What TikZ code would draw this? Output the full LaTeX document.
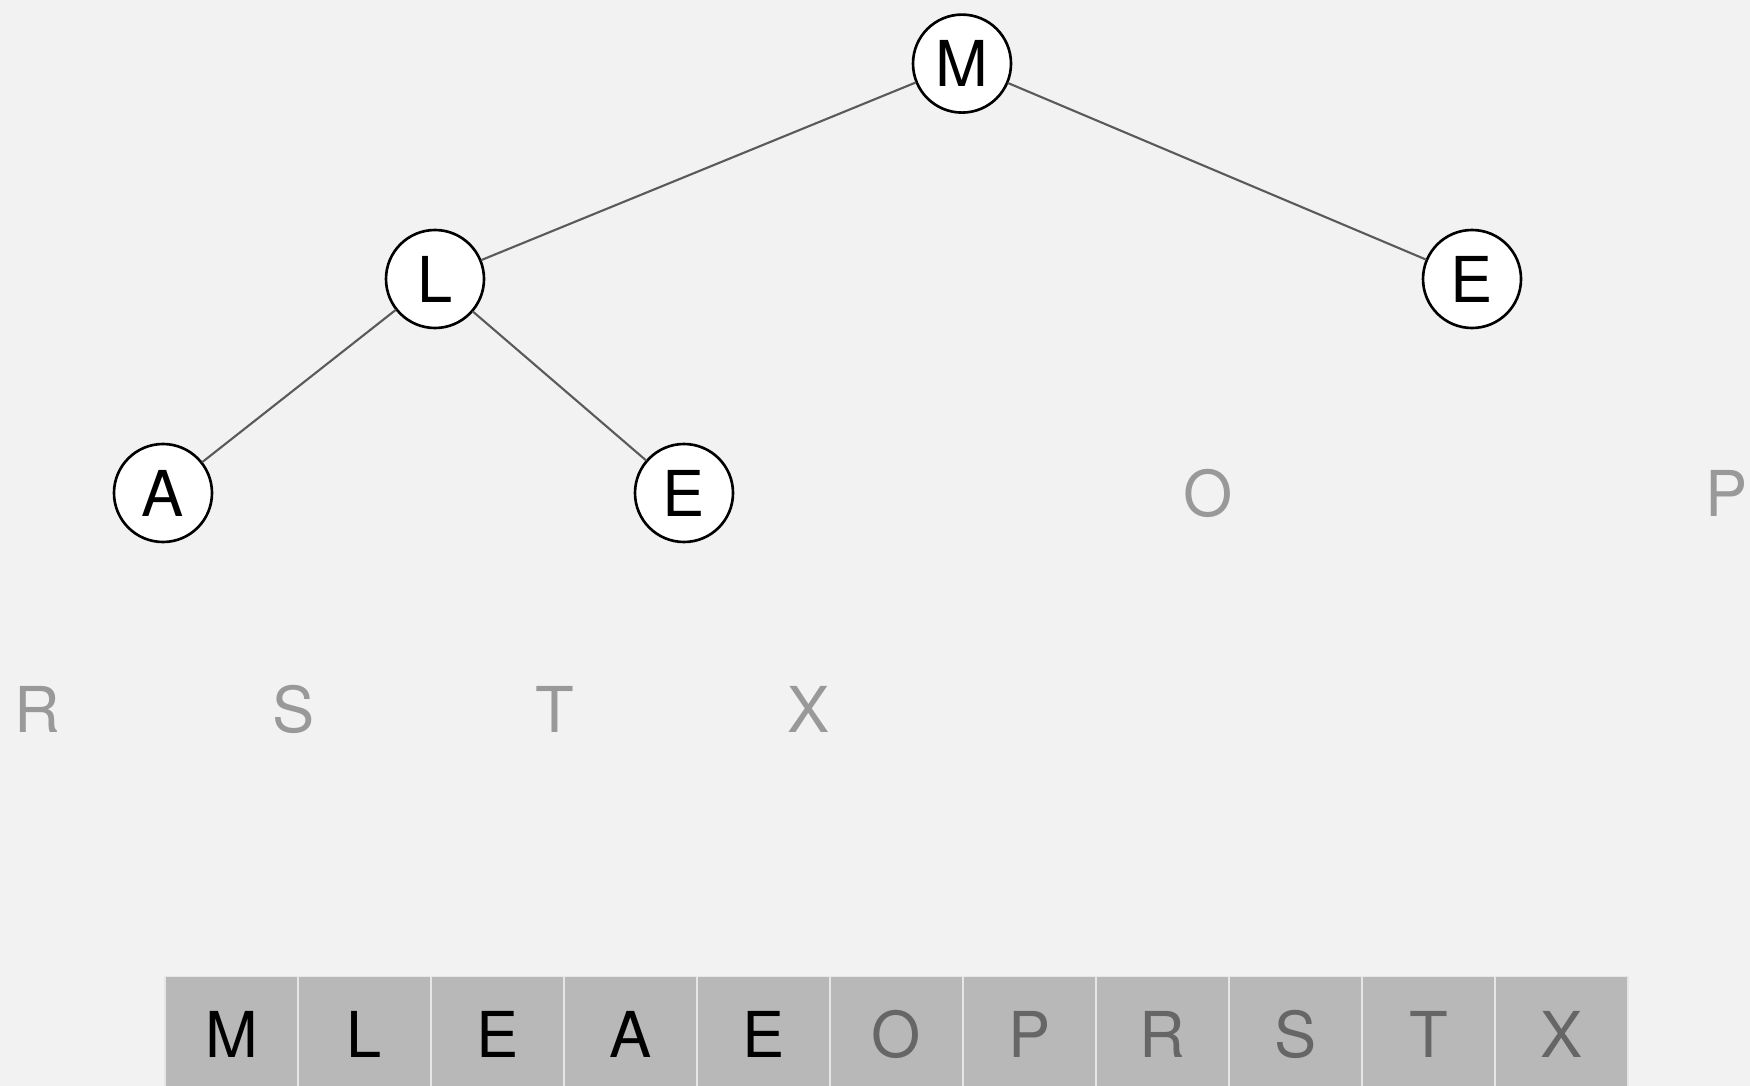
\documentclass[tikz,border=0pt]{standalone}
\usepackage{fontspec}
\setmainfont{TeX Gyre Heros}
\definecolor{bg}{HTML}{F2F2F2}
\definecolor{faded}{HTML}{999999}
\definecolor{sorted}{HTML}{666666}
\definecolor{cellfill}{HTML}{B8B8B8}
\definecolor{cellrule}{HTML}{E6E6E6}
\definecolor{edgegray}{HTML}{5A5A5A}
\begin{document}
\begin{tikzpicture}[line join=round,line cap=round,font=\fontsize{18}{20}\selectfont,
	heapnode/.style={circle,draw=black,fill=white,line width=0.75pt,minimum size=0.98cm,inner sep=0pt},
	ghost/.style={text=faded,inner sep=0pt},
	cell/.style={rectangle,draw=cellrule,fill=cellfill,line width=0.5pt,minimum width=1.33cm,minimum height=1.15cm,inner sep=0pt},
	edge/.style={draw=edgegray,line width=0.6pt}]
	\clip (0,0) rectangle (17.5,-10.86);
	\fill[bg] (0,0) rectangle (17.5,-10.86);
	% heap part
	\node[heapnode] (M) at (9.62,-0.636) {M};
	\node[heapnode] (L) at (4.35,-2.79) {L};
	\node[heapnode] (E1) at (14.72,-2.79) {E};
	\node[heapnode] (A) at (1.63,-4.93) {A};
	\node[heapnode] (E2) at (6.84,-4.93) {E};
	\draw[edge] (M)--(L) (M)--(E1) (L)--(A) (L)--(E2);
	% already sorted, left out of the tree
	\node[ghost] (O) at (12.08,-4.93) {O};
	\node[ghost] (P) at (17.27,-4.93) {P};
	\node[ghost] (R) at (0.37,-7.09) {R};
	\node[ghost] (S) at (2.94,-7.09) {S};
	\node[ghost] (T) at (5.55,-7.09) {T};
	\node[ghost] (X) at (8.09,-7.09) {X};
	% array
	\foreach \l/\c [count=\i] in {M/black,L/black,E/black,A/black,E/black,O/sorted,P/sorted,R/sorted,S/sorted,T/sorted,X/sorted}
	\node[cell,text=\c] (c\i) at ({1.65+1.33*(\i-0.5)},-10.34) {\l};
\end{tikzpicture}
\end{document}
